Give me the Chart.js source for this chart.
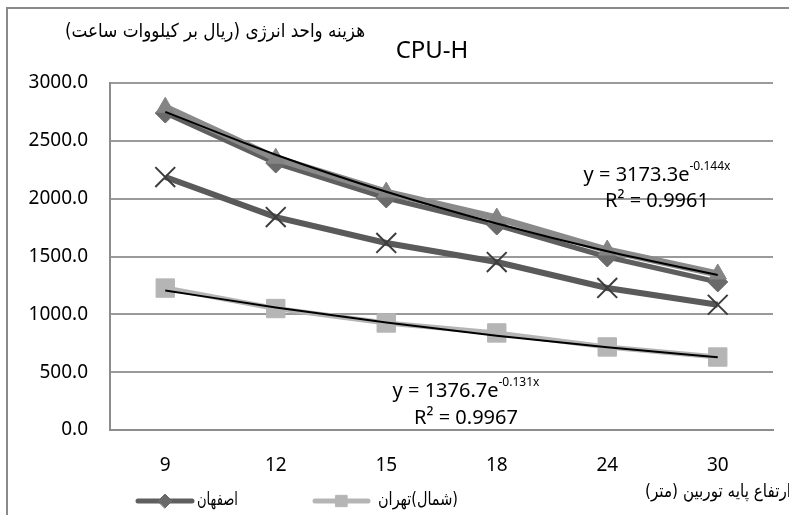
<!DOCTYPE html>
<html><head><meta charset="utf-8">
<script src="https://cdn.jsdelivr.net/npm/chart.js@4/dist/chart.umd.min.js"></script>
<style>
html,body{margin:0;padding:0;background:#fff;overflow:hidden}
#wrap{position:relative;width:789px;height:515px;overflow:hidden}
#frame{position:absolute;left:6px;top:7px;width:900px;height:700px;border-left:2px solid #8a8a8a;border-top:2px solid #8a8a8a}
canvas{position:absolute;left:0;top:0}
</style></head><body>
<div id="wrap"><div id="frame"></div><canvas id="c" width="789" height="515"></canvas></div>
<script>
// ---- data ----
const categories = ['9', '12', '15', '18', '24', '30'];
const isfahan = [2740, 2308, 2006, 1772, 1496, 1280];          // diamonds
const tehranNorth = [1227, 1050, 925, 839, 718, 631];          // squares
const seriesTriangle = [2790, 2350, 2057, 1833, 1556, 1349];   // triangles (overlapping top)
const seriesCross = [2187, 1841, 1617, 1452, 1228, 1083];      // crosses
const trendUpper = [2750, 2380, 2060, 1785, 1545, 1340];       // exp trendline (top)
const trendLower = [1207, 1060, 930, 815, 715, 628];           // exp trendline (bottom)
const yTicks = [0, 500, 1000, 1500, 2000, 2500, 3000];

const titleText = 'CPU-H';
const yTitle = 'هزینه واحد انرژی (ریال بر کیلووات ساعت)';
const xTitle = 'ارتفاع پایه توربین (متر)';
const legendNames = ['اصفهان', '(شمال)تهران'];
const eqUpper = ['y = 3173.3e', '-0.144x', 'R² = 0.9961'];
const eqLower = ['y = 1376.7e', '-0.131x', 'R² = 0.9967'];

const LATIN = '"Noto Sans", "Open Sans", sans-serif';
const ARABIC = '"DejaVu Sans", sans-serif';

function drawFit(ctx, text, cx, y, size, target) {
  ctx.font = size + 'px ' + ARABIC;
  const w = ctx.measureText(text).width;
  ctx.save();
  ctx.translate(cx, y);
  ctx.scale(target / w, 1);
  ctx.direction = 'rtl';
  ctx.textAlign = 'center';
  ctx.textBaseline = 'middle';
  ctx.fillText(text, 0, 0);
  ctx.restore();
}

const overlay = {
  id: 'overlay',
  afterDraw(chart) {
    const ctx = chart.ctx;
    ctx.save();
    ctx.fillStyle = '#000';
    ctx.textBaseline = 'middle';
    // title
    ctx.textAlign = 'center';
    ctx.font = '24px ' + LATIN;
    ctx.fillText(titleText, 432, 51);
    // equations
    const drawEq = (eq, cx, y1, y2) => {
      ctx.font = '20px ' + LATIN;
      const w1 = ctx.measureText(eq[0]).width;
      ctx.font = '12px ' + LATIN;
      const w2 = ctx.measureText(eq[1]).width;
      const x0 = cx - (w1 + w2) / 2;
      ctx.textAlign = 'left';
      ctx.font = '20px ' + LATIN;
      ctx.fillText(eq[0], x0, y1);
      ctx.font = '12px ' + LATIN;
      ctx.fillText(eq[1], x0 + w1, y1 - 8);
      ctx.textAlign = 'center';
      ctx.font = '20px ' + LATIN;
      ctx.fillText(eq[2], cx, y2);
    };
    drawEq(eqUpper, 657, 175, 201);
    drawEq(eqLower, 466, 391, 418);
    // arabic texts
    drawFit(ctx, yTitle, 215, 32, 19, 300);
    drawFit(ctx, xTitle, 791 - 73, 492, 18, 146);
    // legend
    const items = [
      {ds: chart.data.datasets[3], x0: 138, x1: 192, tx: 217.5, tw: 41, r: 7},
      {ds: chart.data.datasets[4], x0: 315, x1: 368, tx: 418, tw: 80, r: 8}
    ];
    items.forEach((it, i) => {
      ctx.strokeStyle = it.ds.borderColor;
      ctx.lineWidth = 5;
      ctx.lineCap = 'round';
      ctx.beginPath(); ctx.moveTo(it.x0, 501); ctx.lineTo(it.x1, 501); ctx.stroke();
      ctx.fillStyle = it.ds.pointBackgroundColor;
      ctx.strokeStyle = it.ds.pointBackgroundColor;
      ctx.lineWidth = 1;
      Chart.helpers.drawPoint(ctx, {pointStyle: it.ds.pointStyle, radius: it.r, rotation: 0, borderWidth: 1}, (it.x0 + it.x1) / 2, 501);
      ctx.fillStyle = '#000';
      drawFit(ctx, legendNames[i], it.tx, 500, 18, it.tw);
    });
    ctx.restore();
  }
};

new Chart(document.getElementById('c'), {
  type: 'line',
  data: {
    labels: categories,
    datasets: [
      {label: 'trend upper', data: trendUpper, borderColor: '#000', borderWidth: 2, pointRadius: 0, cubicInterpolationMode: 'monotone', fill: false},
      {label: 'trend lower', data: trendLower, borderColor: '#000', borderWidth: 2, pointRadius: 0, cubicInterpolationMode: 'monotone', fill: false},
      {label: 'triangles', data: seriesTriangle, borderColor: '#8a8a8a', backgroundColor: '#8a8a8a', pointBackgroundColor: '#848484', pointBorderColor: '#848484', borderWidth: 7, pointStyle: 'triangle', pointRadius: 10, pointBorderWidth: 1, tension: 0},
      {label: legendNames[0], data: isfahan, borderColor: '#5f5f5f', backgroundColor: '#6a6a6a', pointBackgroundColor: '#6a6a6a', pointBorderColor: '#6a6a6a', borderWidth: 5, pointStyle: 'rectRot', pointRadius: 10, pointBorderWidth: 1, tension: 0},
      {label: legendNames[1], data: tehranNorth, borderColor: '#b5b5b5', backgroundColor: '#b5b5b5', pointBackgroundColor: '#b5b5b5', pointBorderColor: '#b5b5b5', borderWidth: 5, pointStyle: 'rect', pointRadius: 13, pointBorderWidth: 1, tension: 0},
      {label: 'crosses', data: seriesCross, borderColor: '#5a5a5a', backgroundColor: '#5a5a5a', pointBackgroundColor: '#5a5a5a', pointBorderColor: '#3c3c3c', borderWidth: 6, pointStyle: 'crossRot', pointRadius: 14, pointBorderWidth: 2, tension: 0}
    ]
  },
  options: {
    responsive: false,
    animation: false,
    layout: {padding: {top: 83, right: 11, left: 0, bottom: 0}},
    plugins: {legend: {display: false}, tooltip: {enabled: false}, title: {display: false}},
    scales: {
      x: {
        type: 'category', offset: true,
        grid: {display: false, drawTicks: false},
        border: {display: true, color: '#8c8c8c', width: 2},
        ticks: {color: '#000', font: {family: LATIN, size: 19}, padding: 24, maxRotation: 0},
        afterFit(s) { s.height = 85; }
      },
      y: {
        min: 0, max: 3000,
        afterBuildTicks(s) { s.ticks = yTicks.map(v => ({value: v})); },
        grid: {color: '#9a9a9a', lineWidth: 2, drawTicks: false},
        border: {display: true, color: '#8c8c8c', width: 2},
        ticks: {color: '#000', font: {family: LATIN, size: 19}, padding: 22, callback: v => Number(v).toFixed(1)},
        afterFit(s) { s.width = 110; }
      }
    }
  },
  plugins: [overlay]
});
</script>
</body></html>
